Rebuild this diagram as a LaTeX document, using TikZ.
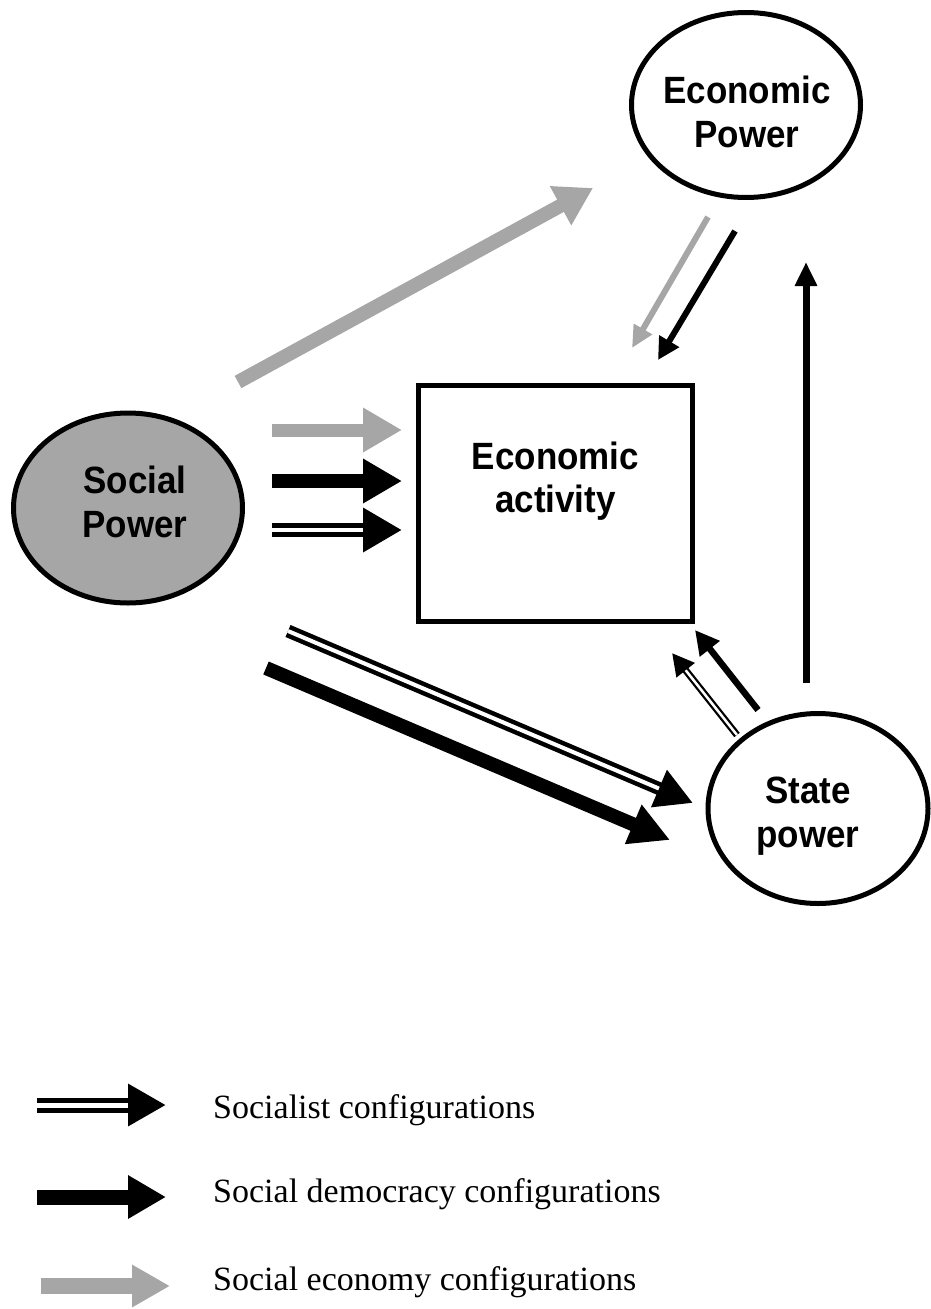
\documentclass[tikz,border=0pt]{standalone}
\usepackage{fontspec}
\setmainfont{Liberation Serif}
\newfontfamily\lblfont[FakeStretch=0.92]{Liberation Sans}
\usetikzlibrary{arrows.meta,shapes.geometric}
\definecolor{lgray}{RGB}{166,166,166}
\definecolor{fillgray}{RGB}{166,166,166}
\tikzset{
  lbl/.style={font=\lblfont\bfseries\fontsize{38}{44}\selectfont, anchor=base, inner sep=0pt},
  leg/.style={font=\fontsize{34}{40}\selectfont, anchor=base west, inner sep=0pt},
  ell/.style={ellipse, draw, line width=5pt, inner sep=0pt},
  fat/.style n args={3}{line width=#1, -{Triangle[length=#2,width=#3]}},
  dbl/.style n args={4}{line width=#1, -{Triangle[length=#2,width=#3]},
     postaction={draw=white, line width=#4, arrows=-, shorten >=#2}},
}
\begin{document}
\begin{tikzpicture}[x=1pt,y=-1pt]
\useasboundingbox (0,0) rectangle (930,1309);

% nodes
\node[ell, fill=fillgray, minimum width=229pt, minimum height=190pt] (sp) at (128,508) {};
\node[ell, fill=white, minimum width=229pt, minimum height=185pt] (ep) at (746,105) {};
\node[ell, fill=white, minimum width=220pt, minimum height=190pt] (st) at (818,808.5) {};
\node[draw, line width=5pt, minimum width=274pt, minimum height=236pt, inner sep=0pt] (ea) at (555.5,503.5) {};

\node[lbl] (sp1) at (135,493) {Social};
\node[lbl] (sp2) at (135,537) {Power};
\node[lbl] (ep1) at (747,103) {Economic};
\node[lbl] (ep2) at (747,147) {Power};
\node[lbl] (ea1) at (555.5,469) {Economic};
\node[lbl] (ea2) at (555.5,512) {activity};
\node[lbl] (st1) at (808,803) {State};
\node[lbl] (st2) at (808,847) {power};

% coordinates
\coordinate (a1s) at (238,382);  \coordinate (a1e) at (593,188);
\coordinate (a2s) at (272,430);  \coordinate (a2e) at (402,430);
\coordinate (a3s) at (272,481);  \coordinate (a3e) at (402,481);
\coordinate (a4s) at (272,530);  \coordinate (a4e) at (402,530);
\coordinate (a5s) at (288,631);  \coordinate (a5e) at (693,803);
\coordinate (a6s) at (266,668);  \coordinate (a6e) at (670,840);
\coordinate (a7s) at (708,217);  \coordinate (a7e) at (632,348);
\coordinate (a8s) at (735,231);  \coordinate (a8e) at (658,360);
\coordinate (a9s) at (737,735);  \coordinate (a9e) at (672,653);
\coordinate (a10s) at (758,710); \coordinate (a10e) at (695,630);
\coordinate (a11s) at (806,683); \coordinate (a11e) at (806,262);

% arrows
\draw[lgray, fat={14pt}{37pt}{42pt}] (a1s) -- (a1e);
\draw[lgray, fat={13pt}{39pt}{42pt}] (a2s) -- (a2e);
\draw[black, fat={14pt}{39pt}{42pt}] (a3s) -- (a3e);
\draw[black, dbl={14pt}{39pt}{42pt}{4.5pt}] (a4s) -- (a4e);
\draw[black, dbl={13pt}{37pt}{38pt}{4pt}] (a5s) -- (a5e);
\draw[black, fat={14pt}{40pt}{40pt}] (a6s) -- (a6e);
\draw[lgray, fat={6pt}{22pt}{20pt}] (a7s) -- (a7e);
\draw[black, fat={6pt}{22pt}{22pt}] (a8s) -- (a8e);
\draw[black, dbl={7pt}{22pt}{22pt}{2.5pt}] (a9s) -- (a9e);
\draw[black, fat={6.5pt}{24pt}{24pt}] (a10s) -- (a10e);
\draw[black, fat={7pt}{24pt}{21pt}] (a11s) -- (a11e);

% legend
\coordinate (l1s) at (37,1105);  \coordinate (l1e) at (166,1105);
\coordinate (l2s) at (37,1197);  \coordinate (l2e) at (166,1197);
\coordinate (l3s) at (41,1286);  \coordinate (l3e) at (170,1286);
\draw[black, dbl={15pt}{38pt}{40pt}{5pt}] (l1s) -- (l1e);
\draw[black, fat={15pt}{38pt}{41pt}] (l2s) -- (l2e);
\draw[lgray, fat={16pt}{38pt}{40pt}] (l3s) -- (l3e);
\node[leg] (t1) at (213,1118) {Socialist configurations};
\node[leg] (t2) at (213,1202) {Social democracy configurations};
\node[leg] (t3) at (213,1290) {Social economy configurations};
\end{tikzpicture}
\end{document}
